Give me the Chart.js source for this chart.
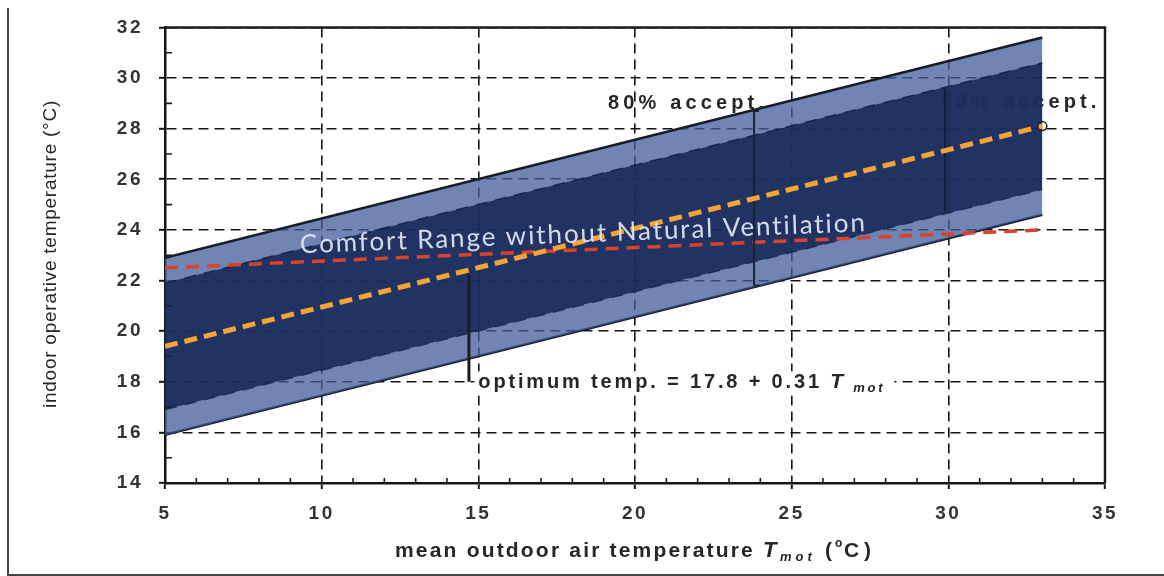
<!DOCTYPE html>
<html lang="en">
<head>
<meta charset="UTF-8">
<title>Adaptive comfort range</title>
<script src="https://cdn.jsdelivr.net/npm/chart.js"></script>
<style>
    body {
        margin: 0;
        background-color: #ffffff;
    }
</style>
</head>
<body>
<canvas id="comfortChart" width="1164" height="576"></canvas>
<script>
    // values
    const tempX = [5, 33];
    const upper80 = [22.9, 31.6];
    const upper90 = [21.9, 30.6];
    const lower90 = [16.9, 25.6];
    const lower80 = [15.9, 24.6];
    const optimumLine = [19.4, 28.1];
    const noVentLine = [22.5, 24.0];

    // vertical marker lines
    const accept80X = [23.8, 23.8];
    const accept80Y = [21.8, 28.7];
    const accept90X = [29.9, 29.9];
    const accept90Y = [24.7, 29.6];
    const optimumMarkX = [14.7, 14.7];
    const optimumMarkY = [18.0, 22.2];

    const xTickValues = [5, 10, 15, 20, 25, 30, 35];
    const yTickValues = [14, 16, 18, 20, 22, 24, 26, 28, 30, 32];

    function pts(xs, ys) {
        return xs.map((x, i) => ({ x: x, y: ys[i] }));
    }

    // draw text stretched to a given width with letter spacing
    function fitText(ctx, text, x, y, width) {
        ctx.letterSpacing = '0px';
        const w0 = ctx.measureText(text).width;
        const sp = (width - w0) / text.length;
        ctx.letterSpacing = sp + 'px';
        ctx.fillText(text, x, y);
        ctx.letterSpacing = '0px';
    }

    const BOLD = '"Liberation Sans", Arial, sans-serif';

    const annotate = {
        id: 'annotate',
        beforeDraw(chart) {
            chart.ctx.letterSpacing = '2.5px';
        },
        beforeDatasetsDraw(chart) {
            const { ctx, scales: { x, y } } = chart;
            ctx.save();
            ctx.textBaseline = 'alphabetic';
            ctx.textAlign = 'left';
            ctx.fillStyle = '#262626';

            // 90% label sits behind the band
            ctx.font = 'bold 20px ' + BOLD;
            fitText(ctx, '90% accept.', x.getPixelForValue(29.75), y.getPixelForValue(28.8), 160);

            // optimum formula with white box
            const ox = x.getPixelForValue(15.0);
            const oy = y.getPixelForValue(17.74);
            ctx.fillStyle = '#fff';
            ctx.fillRect(ox - 4, oy - 17, 420, 24);
            ctx.fillStyle = '#262626';
            ctx.font = 'bold 20px ' + BOLD;
            fitText(ctx, 'optimum temp. = 17.8 + 0.31 ', ox, oy, 352);
            ctx.font = 'italic bold 21px ' + BOLD;
            ctx.fillText('T', ox + 352, oy);
            ctx.font = 'italic bold 13px ' + BOLD;
            fitText(ctx, 'mot', ox + 375, oy + 4, 32);
            ctx.restore();
        },
        afterDatasetsDraw(chart) {
            const { ctx, chartArea: a, scales: { x, y } } = chart;
            ctx.save();
            ctx.letterSpacing = '0px';
            ctx.strokeStyle = '#1c1c1c';
            ctx.lineWidth = 1.6;
            ctx.beginPath();
            for (let v = x.min + 1; v < x.max; v++) {
                if (v % 5 === 0) continue;
                const px = x.getPixelForValue(v);
                ctx.moveTo(px, a.bottom);
                ctx.lineTo(px, a.bottom - 5);
            }
            for (let v = y.min + 1; v < y.max; v += 2) {
                const py = y.getPixelForValue(v);
                ctx.moveTo(a.left, py);
                ctx.lineTo(a.left + 7, py);
            }
            ctx.stroke();

            // top and right frame
            ctx.lineWidth = 2.5;
            ctx.beginPath();
            ctx.moveTo(a.left, a.top);
            ctx.lineTo(a.right, a.top);
            ctx.lineTo(a.right, a.bottom);
            ctx.stroke();

            ctx.textBaseline = 'alphabetic';
            ctx.textAlign = 'left';
            ctx.fillStyle = '#262626';
            ctx.font = 'bold 20px ' + BOLD;
            fitText(ctx, '80% accept.', x.getPixelForValue(19.14), y.getPixelForValue(28.77), 160);

            // comfort range label, tilted along the band
            ctx.save();
            ctx.translate(x.getPixelForValue(9.31), y.getPixelForValue(23.41));
            ctx.rotate(-0.039);
            ctx.textBaseline = 'middle';
            ctx.font = '26px Lato, "Open Sans", sans-serif';
            ctx.fillStyle = 'rgba(222, 228, 240, 0.95)';
            fitText(ctx, 'Comfort Range without Natural Ventilation', 0, 0, 568);
            ctx.restore();
            ctx.restore();
        },
        afterDraw(chart) {
            const { ctx } = chart;
            ctx.save();
            ctx.fillStyle = '#262626';
            ctx.textBaseline = 'alphabetic';
            ctx.textAlign = 'left';

            // x axis title
            const ty = 557;
            ctx.font = 'bold 21px ' + BOLD;
            fitText(ctx, 'mean outdoor air temperature ', 395, ty, 368);
            ctx.font = 'italic bold 22px ' + BOLD;
            ctx.fillText('T', 763, ty);
            ctx.font = 'italic bold 13px ' + BOLD;
            fitText(ctx, 'mot', 780, ty + 4, 36);
            ctx.font = 'bold 21px ' + BOLD;
            ctx.fillText('(', 825, ty);
            ctx.font = 'bold 12px ' + BOLD;
            ctx.fillText('o', 835, ty - 10);
            ctx.font = 'bold 21px ' + BOLD;
            fitText(ctx, 'C)', 844, ty, 32);

            // y axis title
            ctx.save();
            ctx.translate(51, 254);
            ctx.rotate(-Math.PI / 2);
            ctx.textBaseline = 'middle';
            ctx.font = '19px "Liberation Sans Narrow", "Arial Narrow", "Liberation Sans", sans-serif';
            fitText(ctx, 'indoor operative temperature (°C)', -154, 0, 308);
            ctx.restore();

            // figure frame
            ctx.strokeStyle = '#444';
            ctx.lineWidth = 2;
            ctx.beginPath();
            ctx.moveTo(8, 8);
            ctx.lineTo(8, 575);
            ctx.lineTo(1164, 575);
            ctx.stroke();
            ctx.restore();
        }
    };

    const lightBand = 'rgba(65, 92, 155, 0.75)';
    const darkBand = 'rgba(20, 38, 85, 0.86)';

    const ctx = document.getElementById('comfortChart').getContext('2d');
    new Chart(ctx, {
        type: 'line',
        data: {
            datasets: [
                {
                    label: 'optimum',
                    data: pts(tempX, optimumLine),
                    borderColor: '#f2a437',
                    borderWidth: 5,
                    borderDash: [13, 7],
                    pointRadius: [0, 4.5],
                    pointBorderColor: '#222',
                    pointBackgroundColor: 'rgba(0,0,0,0)',
                    pointBorderWidth: 1.5,
                    order: 1
                },
                {
                    label: 'no natural ventilation',
                    data: pts(tempX, noVentLine),
                    borderColor: '#d8432b',
                    borderWidth: 3.5,
                    borderDash: [13, 8],
                    pointRadius: 0,
                    order: 3
                },
                {
                    label: '80% marker',
                    data: pts(accept80X, accept80Y),
                    borderColor: '#1b2233',
                    borderWidth: 2,
                    pointStyle: 'dash',
                    pointRadius: 5,
                    pointBorderWidth: 2,
                    pointBorderColor: '#1b2233',
                    order: 2
                },
                {
                    label: '90% marker',
                    data: pts(accept90X, accept90Y),
                    borderColor: 'rgba(15, 22, 45, 0.8)',
                    borderWidth: 2,
                    pointRadius: 0,
                    order: 2
                },
                {
                    label: 'optimum marker',
                    data: pts(optimumMarkX, optimumMarkY),
                    borderColor: '#1b1b22',
                    borderWidth: 3,
                    pointRadius: 0,
                    order: 2
                },
                {
                    label: 'upper 90',
                    data: pts(tempX, upper90),
                    borderColor: 'rgba(12, 20, 45, 0.7)',
                    borderWidth: 1.5,
                    borderDash: [12, 8],
                    backgroundColor: darkBand,
                    fill: 6,
                    pointRadius: 0,
                    order: 4
                },
                {
                    label: 'lower 90',
                    data: pts(tempX, lower90),
                    borderColor: 'rgba(12, 20, 45, 0.7)',
                    borderWidth: 1.5,
                    borderDash: [12, 8],
                    pointRadius: 0,
                    order: 4
                },
                {
                    label: 'upper 80',
                    data: pts(tempX, upper80),
                    borderColor: '#161c2a',
                    borderWidth: 2.5,
                    backgroundColor: lightBand,
                    fill: 8,
                    pointRadius: 0,
                    order: 5
                },
                {
                    label: 'lower 80',
                    data: pts(tempX, lower80),
                    borderColor: '#161c2a',
                    borderWidth: 2.5,
                    pointRadius: 0,
                    order: 5
                }
            ]
        },
        options: {
            responsive: false,
            animation: false,
            layout: { padding: { left: 0, right: 59, top: 24, bottom: 0 } },
            plugins: {
                legend: { display: false },
                tooltip: { enabled: false },
                filler: { propagate: false }
            },
            scales: {
                x: {
                    type: 'linear',
                    min: 5,
                    max: 35,
                    afterBuildTicks: s => { s.ticks = xTickValues.map(v => ({ value: v })); },
                    afterFit: s => { s.height = 93; },
                    ticks: {
                        color: '#333',
                        font: { family: BOLD, weight: 'bold', size: 19 },
                        padding: 13,
                        maxRotation: 0
                    },
                    grid: {
                        color: '#151515',
                        lineWidth: 1.6,
                        tickLength: 6,
                        tickColor: '#151515',
                        tickWidth: 2,
                        tickBorderDash: []
                    },
                    border: { display: true, color: '#151515', width: 2.5, dash: [10, 6] }
                },
                y: {
                    min: 14,
                    max: 32,
                    afterBuildTicks: s => { s.ticks = yTickValues.map(v => ({ value: v })); },
                    afterFit: s => { s.width = 165; },
                    ticks: {
                        color: '#333',
                        font: { family: BOLD, weight: 'bold', size: 19 },
                        padding: 16
                    },
                    grid: {
                        color: '#151515',
                        lineWidth: 1.6,
                        tickLength: 6,
                        tickColor: '#151515',
                        tickWidth: 2,
                        tickBorderDash: []
                    },
                    border: { display: true, color: '#151515', width: 2.5, dash: [10, 6] }
                }
            }
        },
        plugins: [annotate]
    });
</script>
</body>
</html>
